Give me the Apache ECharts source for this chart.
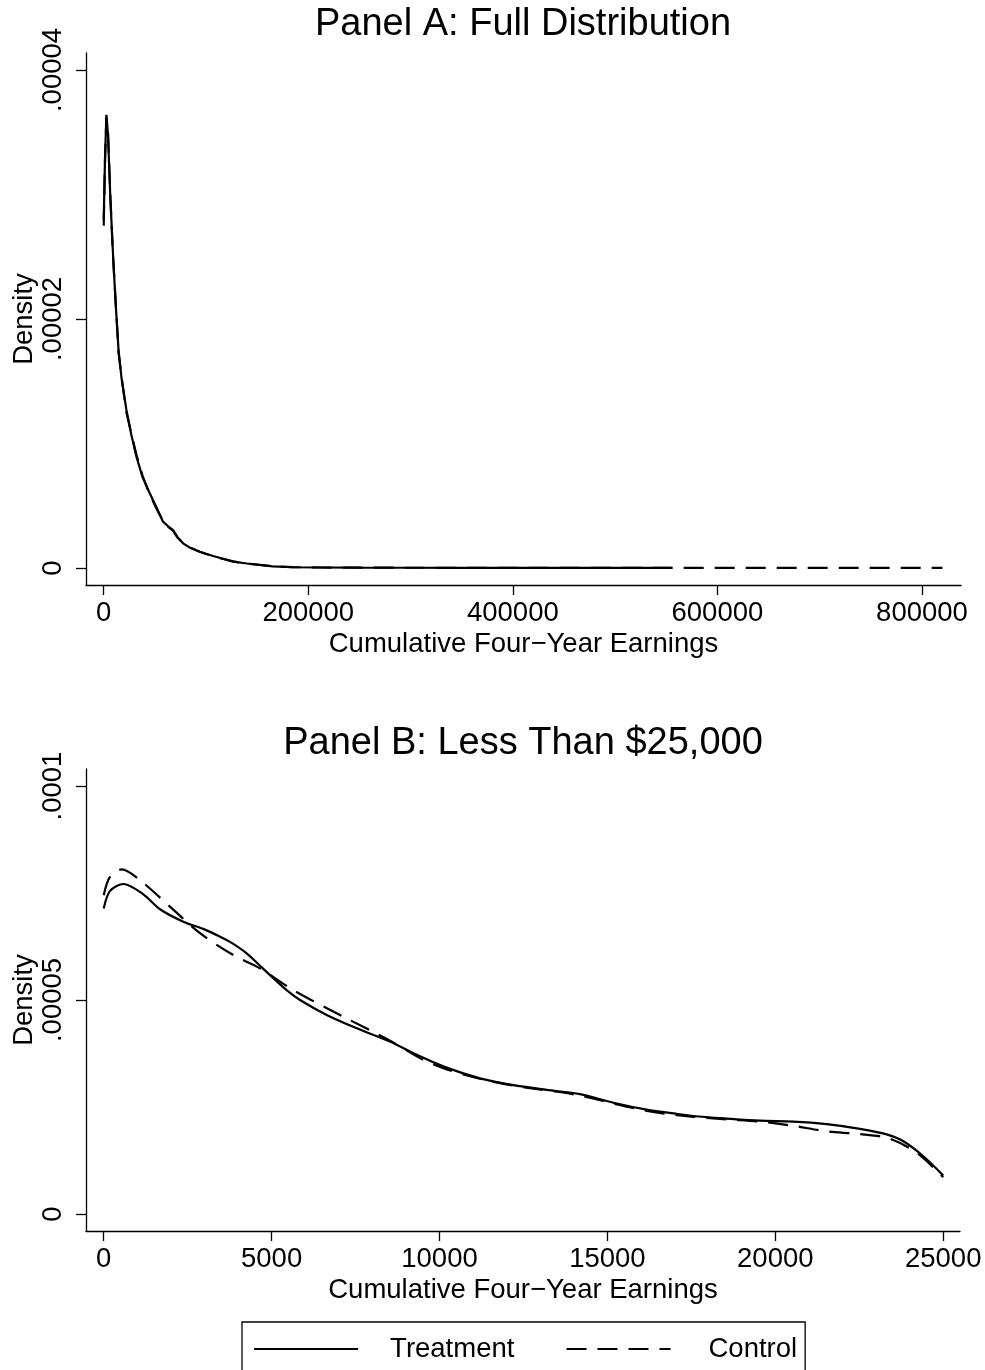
<!DOCTYPE html>
<html>
<head>
<meta charset="utf-8">
<script src="https://cdn.jsdelivr.net/npm/echarts@6/dist/echarts.min.js"></script>
<style>
html,body{margin:0;padding:0;background:#fff;}
#chart{width:985px;height:1370px;}
</style>
</head>
<body>
<div id="chart"></div>
<script>
// ---------- text ----------
const titleA = 'Panel A: Full Distribution';
const titleB = 'Panel B: Less Than $25,000';
const xAxisTitle = 'Cumulative Four\u2212Year Earnings';
const yAxisTitle = 'Density';
const seriesNames = ['Treatment', 'Control'];

// ---------- ticks ----------
const xTicksA = [0, 200000, 400000, 600000, 800000];
const xTickLabelsA = ['0', '200000', '400000', '600000', '800000'];
const yTicksA = [0, 0.00002, 0.00004];
const yTickLabelsA = ['0', '.00002', '.00004'];
const xTicksB = [0, 5000, 10000, 15000, 20000, 25000];
const xTickLabelsB = ['0', '5000', '10000', '15000', '20000', '25000'];
const yTicksB = [0, 0.00005, 0.0001];
const yTickLabelsB = ['0', '.00005', '.0001'];

// ---------- Panel A data (full distribution) ----------
const earningsA_T = [0, 1300, 2640, 4200, 6550, 9100, 11500, 14500, 17500, 22200, 27000, 32000, 38000, 45000, 52000, 58000, 63000, 67800, 72000, 77600, 85000, 93900, 100000, 106900, 115000, 126500, 140000, 152600, 165000, 184800, 210000, 250000, 300000, 350000, 400000, 450000, 500000, 555000];
const densityA_T = [2.80e-5, 3.30e-5, 3.64e-5, 3.48e-5, 2.96e-5, 2.52e-5, 2.15e-5, 1.75e-5, 1.52e-5, 1.27e-5, 1.07e-5, 8.94e-6, 7.3e-6, 6.0e-6, 4.8e-6, 3.72e-6, 3.35e-6, 3.05e-6, 2.5e-6, 1.98e-6, 1.6e-6, 1.31e-6, 1.15e-6, 9.6e-7, 7.8e-7, 5.1e-7, 3.6e-7, 2.4e-7, 1.3e-7, 6e-8, 4e-8, 3e-8, 2e-8, 1.5e-8, 1e-8, 1e-8, 5e-9, 5e-9];
const earningsA_C = [0, 1300, 2640, 4200, 6550, 9100, 11500, 14500, 17500, 22200, 27000, 32000, 38000, 45000, 52000, 58000, 63000, 67800, 72000, 77600, 85000, 93900, 100000, 106900, 115000, 126500, 140000, 152600, 165000, 184800, 210000, 250000, 300000, 350000, 400000, 450000, 500000, 555000, 600000, 650000, 700000, 750000, 820000];
const densityA_C = [2.75e-5, 3.28e-5, 3.62e-5, 3.50e-5, 2.98e-5, 2.50e-5, 2.17e-5, 1.73e-5, 1.53e-5, 1.25e-5, 1.08e-5, 9.1e-6, 7.4e-6, 5.9e-6, 4.7e-6, 3.8e-6, 3.3e-6, 3.0e-6, 2.45e-6, 2.0e-6, 1.62e-6, 1.3e-6, 1.12e-6, 9.8e-7, 7.6e-7, 5.3e-7, 3.5e-7, 2.5e-7, 1.4e-7, 7e-8, 4e-8, 3e-8, 2e-8, 1.5e-8, 1e-8, 1e-8, 8e-9, 6e-9, 5e-9, 4e-9, 3e-9, 3e-9, 2e-9];

// ---------- Panel B data (less than $25,000) ----------
const earningsB_T = [0, 190, 585, 1180, 1677, 2370, 3000, 3463, 3800, 4258, 4654, 5050, 5448, 5846, 6641, 7500, 8526, 9220, 10215, 11206, 12198, 13190, 14185, 15176, 16170, 17063, 17560, 18553, 19545, 20536, 21530, 22523, 23318, 23813, 24408, 25000];
const densityB_T = [7.14e-5, 7.55e-5, 7.71e-5, 7.47e-5, 7.12e-5, 6.83e-5, 6.65e-5, 6.48e-5, 6.34e-5, 6.09e-5, 5.80e-5, 5.51e-5, 5.23e-5, 5.00e-5, 4.65e-5, 4.35e-5, 4.03e-5, 3.76e-5, 3.42e-5, 3.17e-5, 3.01e-5, 2.90e-5, 2.80e-5, 2.60e-5, 2.44e-5, 2.34e-5, 2.29e-5, 2.23e-5, 2.18e-5, 2.16e-5, 2.10e-5, 1.99e-5, 1.86e-5, 1.70e-5, 1.35e-5, 0.90e-5];
const earningsB_C = [0, 190, 536, 1081, 1974, 2868, 3860, 4654, 5646, 7135, 8526, 9470, 10215, 11206, 12198, 13190, 14185, 15176, 16170, 17063, 17560, 18553, 19545, 20536, 21530, 22473, 23366, 24211, 25000];
const densityB_C = [7.45e-5, 7.88e-5, 8.05e-5, 7.80e-5, 7.18e-5, 6.56e-5, 6.05e-5, 5.74e-5, 5.23e-5, 4.61e-5, 4.05e-5, 3.62e-5, 3.38e-5, 3.16e-5, 3.00e-5, 2.89e-5, 2.77e-5, 2.58e-5, 2.41e-5, 2.31e-5, 2.27e-5, 2.21e-5, 2.16e-5, 2.06e-5, 1.93e-5, 1.87e-5, 1.77e-5, 1.43e-5, 0.86e-5];

// ---------- helpers ----------
function pairs(xs, ys) { return xs.map((x, i) => [x, ys[i]]); }
function labeler(ticks, labels) {
  return function (v) {
    let best = 0, bd = Infinity;
    ticks.forEach((t, i) => { const d = Math.abs(t - v); if (d < bd) { bd = d; best = i; } });
    return labels[best];
  };
}
const FONT = "'Liberation Sans', Arial, Helvetica, sans-serif";
const INK = '#000';
const AXW = 1.3;
const LW = 2.2;
const DASH = [20, 11];
const CLEAR = 'rgba(0,0,0,0)';

function xAxisCfg(gridIndex, min, max, ticks, labels) {
  return {
    type: 'value', gridIndex, min, max,
    name: xAxisTitle, nameLocation: 'middle', nameGap: 45, nameMoveOverlap: false,
    nameTextStyle: { fontFamily: FONT, fontSize: 27.5, color: INK },
    axisLine: { show: true, onZero: false, lineStyle: { color: INK, width: AXW } },
    axisTick: { show: true, length: 10, customValues: ticks, lineStyle: { color: INK, width: AXW } },
    axisLabel: { show: true, customValues: ticks, margin: 14, fontFamily: FONT, fontSize: 27.5, color: INK, formatter: labeler(ticks, labels) },
    splitLine: { show: false }
  };
}
function yAxisCfg(gridIndex, min, max, ticks, labels) {
  return {
    type: 'value', gridIndex, min, max,
    name: yAxisTitle, nameLocation: 'middle', nameGap: 48, nameRotate: 90, nameMoveOverlap: false,
    nameTextStyle: { fontFamily: FONT, fontSize: 27.5, color: INK },
    axisLine: { show: true, onZero: false, lineStyle: { color: INK, width: AXW } },
    axisTick: { show: true, length: 10, customValues: ticks, lineStyle: { color: INK, width: AXW } },
    axisLabel: { show: true, rotate: 90, customValues: ticks, margin: 19, fontFamily: FONT, fontSize: 27.5, color: INK, formatter: labeler(ticks, labels) },
    splitLine: { show: false }
  };
}
function lineSeries(name, xi, yi, data, dashed, smooth) {
  return {
    name, type: 'line', xAxisIndex: xi, yAxisIndex: yi, data,
    symbol: 'none', showSymbol: false, smooth: smooth,
    lineStyle: { color: INK, width: LW, type: dashed ? DASH : 'solid' },
    itemStyle: { color: INK },
    emphasis: { disabled: true },
    z: dashed ? 3 : 2
  };
}

const chart = echarts.init(document.getElementById('chart'), null, { renderer: 'canvas' });
chart.setOption({
  backgroundColor: '#fff',
  animation: false,
  textStyle: { fontFamily: FONT, color: INK },
  title: [
    { text: titleA, left: 523, top: 6, textAlign: 'center', padding: 0,
      textStyle: { fontFamily: FONT, fontSize: 38, fontWeight: 'normal', color: INK } },
    { text: titleB, left: 523, top: 725, textAlign: 'center', padding: 0,
      textStyle: { fontFamily: FONT, fontSize: 38, fontWeight: 'normal', color: INK } }
  ],
  grid: [
    { left: 86, right: 24, top: 53, height: 532, containLabel: false, outerBoundsMode: 'none' },
    { left: 86, right: 25, top: 769, height: 462, containLabel: false, outerBoundsMode: 'none' }
  ],
  xAxis: [
    xAxisCfg(0, -17311, 838142, xTicksA, xTickLabelsA),
    xAxisCfg(1, -527, 25500, xTicksB, xTickLabelsB)
  ],
  yAxis: [
    yAxisCfg(0, -1.3655e-6, 4.13655e-5, yTicksA, yTickLabelsA),
    yAxisCfg(1, -3.972e-6, 1.03972e-4, yTicksB, yTickLabelsB)
  ],
  legend: {
    show: true, left: 242, top: 1322, orient: 'horizontal',
    padding: [13, 8, 13, 11],
    borderColor: INK, borderWidth: 1.3, borderRadius: 0,
    itemWidth: 104, itemHeight: 14, itemGap: 51,
    itemStyle: { color: CLEAR, borderColor: CLEAR, borderWidth: 0, opacity: 0 },
    lineStyle: { color: INK, width: LW },
    textStyle: { fontFamily: FONT, fontSize: 27.5, color: INK },
    data: [
      { name: seriesNames[0], textStyle: { padding: [0, 0, 0, 27] } },
      { name: seriesNames[1], textStyle: { padding: [0, 0, 0, 33] } }
    ],
    selectedMode: false
  },
  series: [
    lineSeries(seriesNames[0], 0, 0, pairs(earningsA_T, densityA_T), false, false),
    lineSeries(seriesNames[1], 0, 0, pairs(earningsA_C, densityA_C), true, false),
    lineSeries(seriesNames[0], 1, 1, pairs(earningsB_T, densityB_T), false, 0.3),
    lineSeries(seriesNames[1], 1, 1, pairs(earningsB_C, densityB_C), true, 0.3)
  ]
});
</script>
</body>
</html>
